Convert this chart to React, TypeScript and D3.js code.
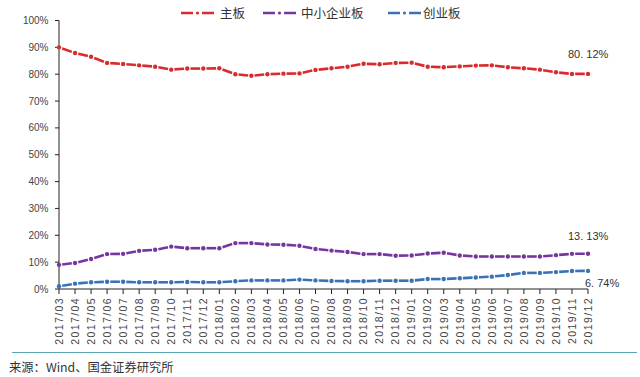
import React from "react";
import * as d3 from "d3";

const categories = [
  "2017/03","2017/04","2017/05","2017/06","2017/07","2017/08","2017/09","2017/10","2017/11","2017/12",
  "2018/01","2018/02","2018/03","2018/04","2018/05","2018/06","2018/07","2018/08","2018/09","2018/10","2018/11","2018/12",
  "2019/01","2019/02","2019/03","2019/04","2019/05","2019/06","2019/07","2019/08","2019/09","2019/10","2019/11","2019/12",
];

const mainBoard = [
  90.0, 87.9, 86.5, 84.2, 83.8, 83.3, 82.8, 81.7, 82.1, 82.1,
  82.2, 80.0, 79.4, 80.0, 80.2, 80.3, 81.6, 82.2, 82.8, 83.9, 83.7, 84.2,
  84.3, 82.8, 82.6, 82.9, 83.2, 83.3, 82.6, 82.2, 81.7, 80.7, 80.1, 80.12,
];

const smeBoard = [
  9.0, 9.7, 11.2, 13.0, 13.1, 14.2, 14.6, 15.8, 15.2, 15.2,
  15.2, 17.1, 17.1, 16.6, 16.5, 16.1, 14.9, 14.3, 13.8, 13.0, 13.0, 12.4,
  12.5, 13.2, 13.5, 12.5, 12.1, 12.1, 12.1, 12.1, 12.1, 12.6, 13.1, 13.13,
];

const chinext = [
  1.0, 2.0, 2.5, 2.7, 2.7, 2.5, 2.5, 2.5, 2.6, 2.5,
  2.5, 2.9, 3.2, 3.2, 3.2, 3.5, 3.2, 3.0, 2.9, 2.9, 3.1, 3.1,
  3.1, 3.7, 3.7, 4.0, 4.3, 4.6, 5.2, 6.0, 6.0, 6.3, 6.7, 6.74,
];

const seriesNames = ["主板", "中小企业板", "创业板"];
const seriesColors = ["#d92a2e", "#7536a0", "#3a72b4"];
const endLabels = ["80. 12%", "13. 13%", "6. 74%"];
const yTicks = [0, 10, 20, 30, 40, 50, 60, 70, 80, 90, 100];
const sourceText = "来源：Wind、国金证券研究所";

const allSeries = [mainBoard, smeBoard, chinext];

export default function App() {
  const x = d3.scalePoint<string>().domain(categories).range([59, 588]).padding(0);
  const y = d3.scaleLinear().domain([0, 100]).range([289, 20.5]);
  const latin = "'Liberation Sans', Arial, sans-serif";
  const cjk = "'Noto Sans CJK SC', sans-serif";

  const legendX = [181, 263, 388];
  const legendTextX = [220, 301, 423];
  const endLabelPos = [
    { x: 568, y: 53.5 },
    { x: 568, y: 236 },
    { x: 585, y: 283 },
  ];

  return (
    <svg width={640} height={377} style={{ position: "absolute", left: 0, top: 0, background: "#fff" }}>
      <rect width={640} height={377} fill="#fff" />
      {/* legend */}
      {seriesNames.map((name, i) => (
        <g key={name}>
          <line x1={legendX[i]} x2={legendX[i] + 12} y1={13} y2={13} stroke={seriesColors[i]} strokeWidth={2.5} />
          <circle cx={legendX[i] + 16.5} cy={13} r={1.6} fill={seriesColors[i]} />
          <line x1={legendX[i] + 21} x2={legendX[i] + 33} y1={13} y2={13} stroke={seriesColors[i]} strokeWidth={2.5} />
          <text x={legendTextX[i]} y={17.5} fontFamily={cjk} fontSize={12.5} fill="#333">{name}</text>
        </g>
      ))}

      {/* y axis */}
      <line x1={59} x2={59} y1={y(100)} y2={y(0)} stroke="#222" strokeWidth={1} />
      {yTicks.map((t) => (
        <g key={t}>
          <line x1={55} x2={59} y1={y(t)} y2={y(t)} stroke="#222" strokeWidth={1} />
          <text x={48.5} y={y(t) + 3.5} textAnchor="end" fontFamily={latin} fontSize={10} fill="#444">{t}%</text>
        </g>
      ))}

      {/* x axis */}
      <line x1={59} x2={588} y1={y(0)} y2={y(0)} stroke="#222" strokeWidth={1} />
      {categories.map((c) => {
        const cx = x(c) as number;
        return (
          <g key={c}>
            <line x1={cx} x2={cx} y1={y(0)} y2={y(0) + 5} stroke="#222" strokeWidth={1} />
            <text
              transform={`translate(${cx + 3.8},${297}) rotate(-90)`}
              textAnchor="end"
              fontFamily={latin}
              fontSize={10.5}
              letterSpacing={1.4}
              fill="#444"
            >
              {c}
            </text>
          </g>
        );
      })}

      {/* series */}
      {allSeries.map((vals, si) => {
        const pts = vals.map((v, i) => [x(categories[i]) as number, y(v)] as [number, number]);
        return (
          <g key={si}>
            {pts.slice(0, -1).map((p, i) => {
              const q = pts[i + 1];
              const a = 0.2, b = 0.8;
              return (
                <line
                  key={i}
                  x1={p[0] + (q[0] - p[0]) * a}
                  y1={p[1] + (q[1] - p[1]) * a}
                  x2={p[0] + (q[0] - p[0]) * b}
                  y2={p[1] + (q[1] - p[1]) * b}
                  stroke={seriesColors[si]}
                  strokeWidth={2.6}
                />
              );
            })}
            {pts.map((p, i) => (
              <circle key={i} cx={p[0]} cy={p[1]} r={2.2} fill={seriesColors[si]} />
            ))}
            <text
              x={endLabelPos[si].x}
              y={endLabelPos[si].y + 4}
              fontFamily={latin}
              fontSize={11}
              fill="#333"
            >
              {endLabels[si]}
            </text>
          </g>
        );
      })}

      {/* footer */}
      <line x1={12} x2={637} y1={352.5} y2={352.5} stroke="#5aa6b4" strokeWidth={1} />
      <text x={9} y={372} fontFamily={cjk} fontSize={12.3} fill="#333">{sourceText}</text>
    </svg>
  );
}
